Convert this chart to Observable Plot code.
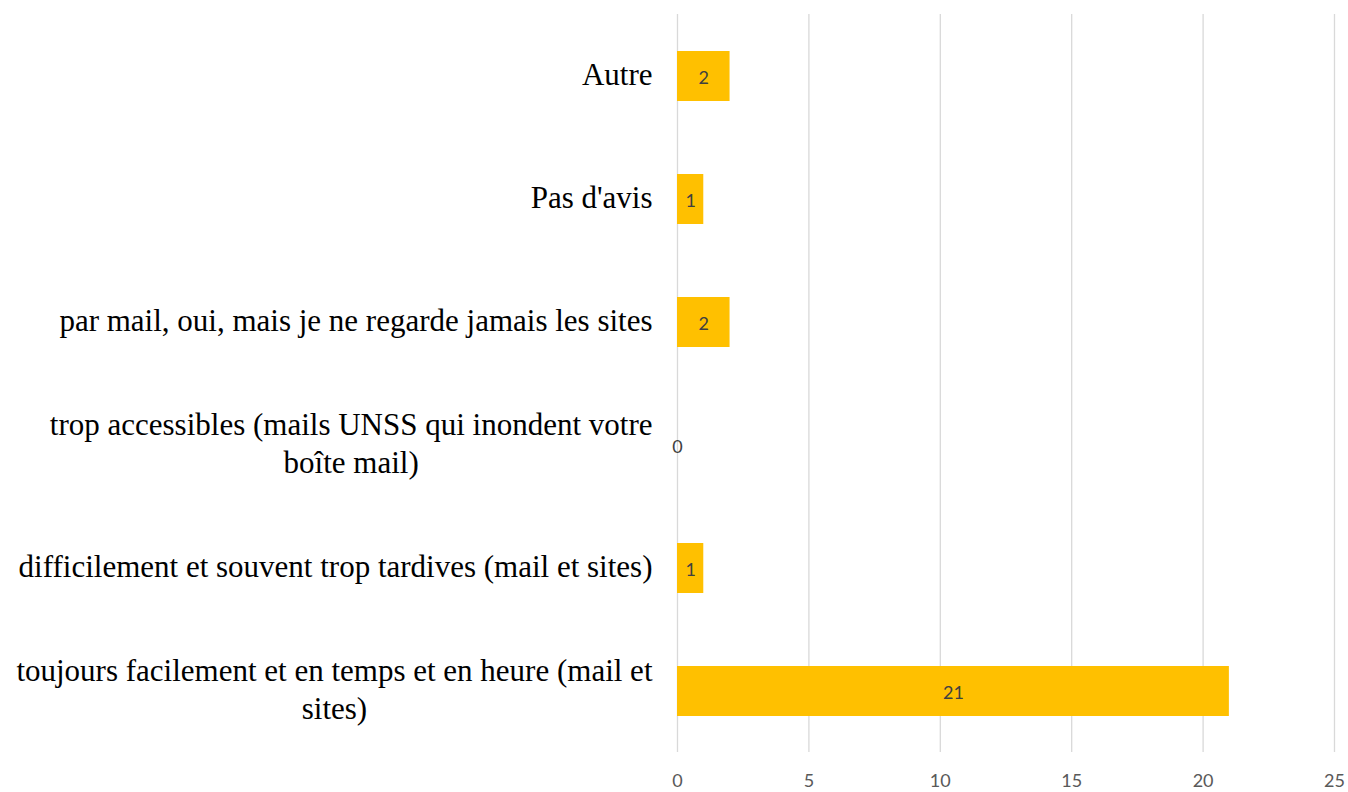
<!DOCTYPE html>
<html>
<head>
<meta charset="utf-8">
<script src="https://cdn.jsdelivr.net/npm/d3@7"></script>
<script src="https://cdn.jsdelivr.net/npm/@observablehq/plot@0.6"></script>
<style>
  html, body { margin: 0; padding: 0; background: #fff; }
  #chart svg { display: block; }
</style>
</head>
<body>
<div id="chart"></div>
<script>
const categories = [
  "Autre",
  "Pas d'avis",
  "par mail, oui, mais je ne regarde jamais les sites",
  "trop accessibles (mails UNSS qui inondent votre\nboîte mail)",
  "difficilement et souvent trop tardives (mail et sites)",
  "toujours facilement et en temps et en heure (mail et\nsites)"
];
const values = [2, 1, 2, 0, 1, 21];
const xTicks = [0, 5, 10, 15, 20, 25];

const data = categories.map((c, i) => ({category: c, value: values[i]}));

const chart = Plot.plot({
  width: 1348,
  height: 792,
  marginLeft: 677,
  marginRight: 14,
  marginTop: 14,
  marginBottom: 40,
  style: {background: "#fff", overflow: "visible"},
  x: {domain: [0, 25], ticks: xTicks, label: null},
  y: {domain: categories, paddingInner: 0.594, paddingOuter: 0.297, label: null, axis: null},
  marks: [
    Plot.gridX(xTicks, {stroke: "#d9d9d9", strokeOpacity: 1, strokeWidth: 1.3}),
    Plot.axisX(xTicks, {tickSize: 0, tickPadding: 22, fontSize: 18, fill: "#595959", fontFamily: "Lato, 'Open Sans', sans-serif", label: null}),
    Plot.barX(data, {y: "category", x: "value", fill: "#FFC000"}),
    Plot.text(data, {y: "category", x: d => d.value / 2, text: d => String(d.value), fill: "#404040", fontSize: 18, dy: 2, fontFamily: "Lato, 'Open Sans', sans-serif"}),
    Plot.text(data, {y: "category", text: "category", frameAnchor: "left", textAnchor: "end", dx: -25, dy: -4, fill: "#000", fontSize: 31, fontFamily: "'Liberation Serif', 'DejaVu Serif', serif", lineHeight: 1.23, className: "ylab"})
  ]
});
document.getElementById("chart").appendChild(chart);

// center multi-line labels within their right-aligned block
chart.querySelectorAll(".ylab text").forEach(t => {
  const spans = t.querySelectorAll("tspan");
  if (spans.length > 1) {
    let w = 0;
    spans.forEach(s => { w = Math.max(w, s.getComputedTextLength()); });
    t.setAttribute("text-anchor", "middle");
    const tr = t.getAttribute("transform") || "";
    t.setAttribute("transform", tr + ` translate(${-w / 2},0)`);
  }
});
</script>
</body>
</html>
